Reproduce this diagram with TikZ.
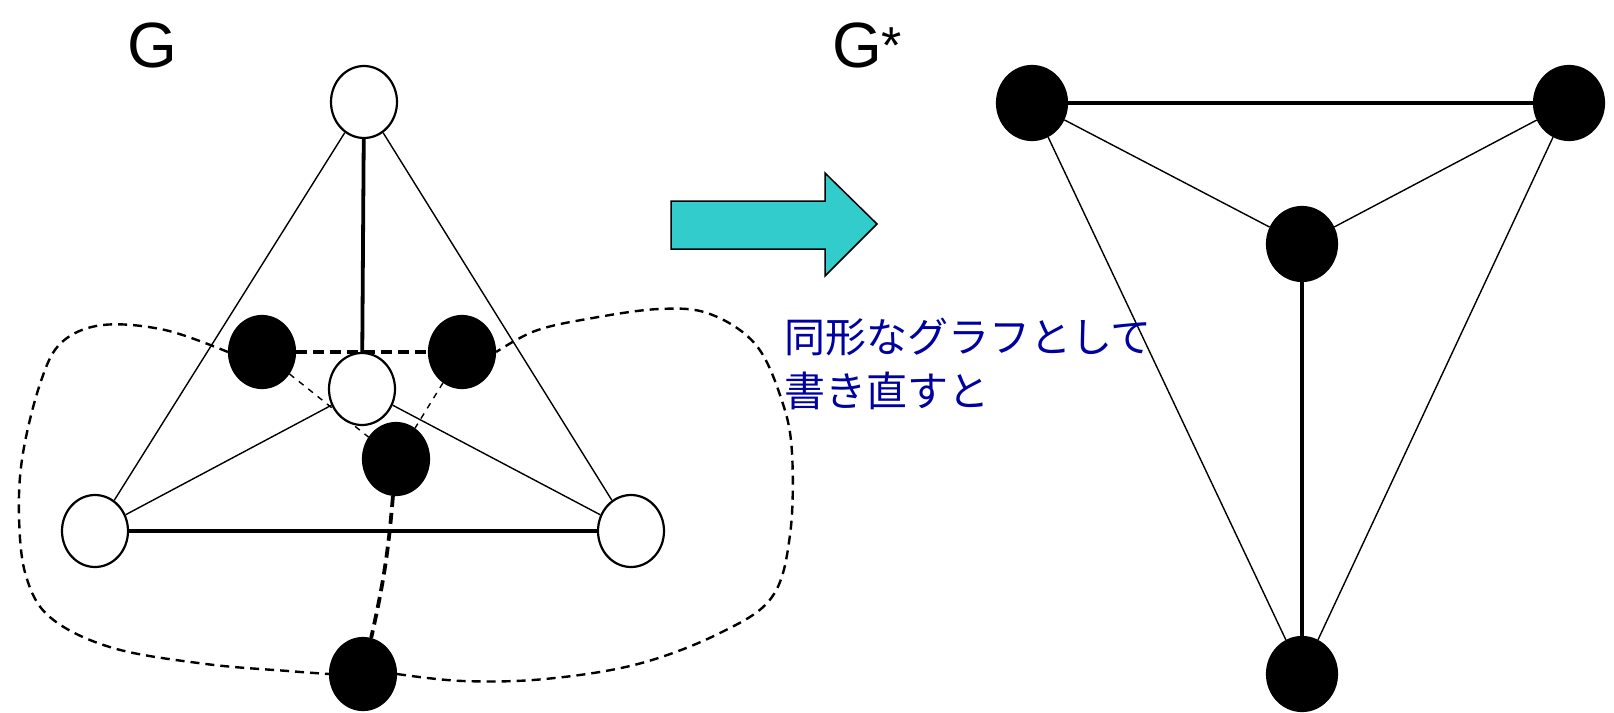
\documentclass[tikz,border=0pt]{standalone}
\usepackage{fontspec}
\setmainfont{Liberation Sans}
\newfontfamily\jpfont{Noto Sans CJK JP}
\usetikzlibrary{backgrounds,shapes.geometric}
\definecolor{arrowcyan}{RGB}{51,204,204}
\definecolor{textblue}{RGB}{0,0,160}
\begin{document}
\begin{tikzpicture}[x=1pt,y=-1pt,
  wnode/.style={ellipse,draw,fill=white,line width=2.2pt,minimum width=66pt,minimum height=72pt,inner sep=0pt},
  bnode/.style={ellipse,draw,fill=black,line width=2.2pt,minimum width=66pt,minimum height=72pt,inner sep=0pt},
  rnode/.style={ellipse,draw,fill=black,line width=2.2pt,minimum width=70pt,minimum height=74pt,inner sep=0pt},
  thinedge/.style={line width=1.4pt},
  thickedge/.style={line width=3.8pt},
  thickdash/.style={line width=3.8pt,dash pattern=on 11pt off 6pt},
  thindash/.style={line width=1.4pt,dash pattern=on 6pt off 6pt},
  loopdash/.style={line width=2.4pt,dash pattern=on 9pt off 6pt},
  lbl/.style={font=\fontsize{64}{70}\selectfont,inner sep=0pt,anchor=base west}]
\useasboundingbox (0,0) rectangle (1614,712);
% left graph G
\node[wnode] (t) at (364,102) {};
\node[wnode] (c) at (362,389) {};
\node[wnode] (l) at (95,531) {};
\node[wnode] (r) at (631,531) {};
\node[bnode] (b1) at (262,352) {};
\node[bnode] (b2) at (462,352) {};
\node[bnode] (b3) at (396,459) {};
\node[bnode] (b4) at (363,674) {};
\begin{scope}[on background layer]
\draw[thickedge] (t) -- (c);
\draw[thinedge] (t) -- (l);
\draw[thinedge] (t) -- (r);
\draw[thinedge] (c) -- (l);
\draw[thinedge] (c) -- (r);
\draw[thickedge] (l) -- (r);
\draw[thickdash] (b1) -- (b2);
\draw[thindash] (b1) -- (b3);
\draw[thindash] (b2) -- (b3);
\draw[thickdash] (b3) to[bend left=4] (b4);
\draw[loopdash] plot[smooth,tension=0.6] coordinates {(b1.west) (165,330) (103,325) (62,342) (41,381) (23,453) (19,515) (26,576) (51,618) (113,648) (206,664) (288,671) (b4.west)};
\draw[loopdash] plot[smooth,tension=0.6] coordinates {(b4.east) (463,681) (545,679) (638,664) (720,633) (772,597) (790,535) (792,453) (782,401) (756,345) (710,314) (659,309) (587,319) (535,331) (b2.east)};
\end{scope}
% arrow
\draw[fill=arrowcyan,line width=1.5pt,line join=miter] (671,201) -- (825,201) -- (825,173) -- (877,224) -- (825,276) -- (825,249) -- (671,249) -- cycle;
% right graph G*
\node[rnode] (p) at (1032,103) {};
\node[rnode] (q) at (1569,103) {};
\node[rnode] (m) at (1302,244) {};
\node[rnode] (n) at (1302,674) {};
\begin{scope}[on background layer]
\draw[thickedge] (p) -- (q);
\draw[thinedge] (p) -- (m);
\draw[thinedge] (q) -- (m);
\draw[thickedge] (m) -- (n);
\draw[thinedge] (p) -- (n);
\draw[thinedge] (q) -- (n);
\end{scope}
% labels
\node[lbl] (gl) at (127,67) {G};
\node[lbl] (gsl) at (832,67) {G\raisebox{4pt}{\fontsize{52}{56}\selectfont *}};
\node[font=\jpfont\fontsize{41}{54}\selectfont,text=textblue,align=left,anchor=north west,inner sep=0pt] (jt) at (784,318) {同形なグラフとして\\書き直すと};
\end{tikzpicture}
\end{document}
